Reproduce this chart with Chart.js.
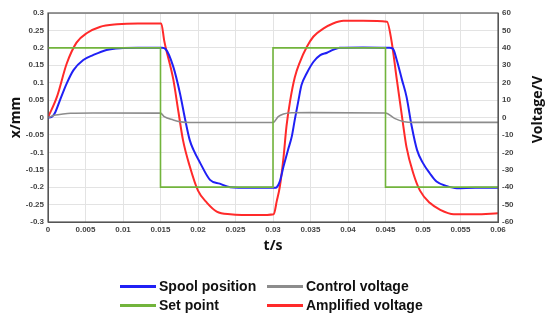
<!DOCTYPE html>
<html lang="en">
<head>
  <meta charset="UTF-8" />
  <title>Spool position response</title>
  <style>
    * { box-sizing: border-box; margin: 0; padding: 0; }
    body { width: 550px; height: 322px; background: #fff; position: relative; overflow: hidden; }
    #chart { position: absolute; left: 0; top: 0; }
    .legend { position: absolute; font-family: 'Liberation Sans', Arial, sans-serif; font-weight: bold; font-size: 14px; color: #111; }
    .item { position: absolute; white-space: nowrap; line-height: 16px; }
    .item span.sw { display: inline-block; width: 36px; height: 3px; vertical-align: middle; margin-right: 3px; position: relative; top: -1px; }
  </style>
  <script src="https://cdn.jsdelivr.net/npm/chart.js"></script>
</head>
<body>
  <canvas id="chart" width="550" height="322"></canvas>

  <div class="legend">
    <div class="item" style="left:120px; top:278px;"><span class="sw" style="background:#2020f5"></span>Spool position</div>
    <div class="item" style="left:267px; top:278px;"><span class="sw" style="background:#8c8c8c"></span>Control voltage</div>
    <div class="item" style="left:120px; top:297px;"><span class="sw" style="background:#72b43c"></span>Set point</div>
    <div class="item" style="left:267px; top:297px;"><span class="sw" style="background:#ff2a2a"></span>Amplified voltage</div>
  </div>

  <script>
    // axis ticks
    const xTicks = [0, 0.005, 0.01, 0.015, 0.02, 0.025, 0.03, 0.035, 0.04, 0.045, 0.05, 0.055, 0.06];
    const xTickLabels = ['0', '0.005', '0.01', '0.015', '0.02', '0.025', '0.03', '0.035', '0.04', '0.045', '0.05', '0.055', '0.06'];
    const yTicks = [-0.3, -0.25, -0.2, -0.15, -0.1, -0.05, 0, 0.05, 0.1, 0.15, 0.2, 0.25, 0.3];
    const yTickLabels = ['-0.3', '-0.25', '-0.2', '-0.15', '-0.1', '-0.05', '0', '0.05', '0.1', '0.15', '0.2', '0.25', '0.3'];
    const vTicks = [-60, -50, -40, -30, -20, -10, 0, 10, 20, 30, 40, 50, 60];
    const vTickLabels = ['-60', '-50', '-40', '-30', '-20', '-10', '0', '10', '20', '30', '40', '50', '60'];

    // spool position (mm)
    const spoolT = [0, 0.0005, 0.0009, 0.0016, 0.0025, 0.0034, 0.0047, 0.006, 0.0078, 0.0096, 0.012, 0.0152, 0.0157, 0.0167, 0.0176, 0.0183, 0.0189, 0.0194, 0.0203, 0.0216, 0.0229, 0.0243, 0.027, 0.0302, 0.0305, 0.0309, 0.0314, 0.032, 0.0325, 0.0329, 0.0334, 0.0338, 0.0345, 0.0354, 0.0363, 0.0372, 0.038, 0.0389, 0.042, 0.0455, 0.046, 0.0465, 0.0472, 0.0478, 0.0485, 0.0492, 0.05, 0.0509, 0.0518, 0.0532, 0.0545, 0.057, 0.06];
    const spoolX = [0, 0.002, 0.012, 0.05, 0.098, 0.136, 0.165, 0.179, 0.194, 0.199, 0.2, 0.2, 0.196, 0.146, 0.069, -0.007, -0.065, -0.093, -0.131, -0.179, -0.19, -0.2, -0.202, -0.202, -0.2, -0.184, -0.141, -0.093, -0.055, -0.007, 0.05, 0.093, 0.127, 0.16, 0.179, 0.186, 0.194, 0.2, 0.201, 0.2, 0.197, 0.165, 0.108, 0.06, -0.026, -0.093, -0.131, -0.16, -0.184, -0.197, -0.203, -0.202, -0.202];

    // set point (mm)
    const setT = [0, 0.015, 0.015, 0.03, 0.03, 0.045, 0.045, 0.06];
    const setX = [0.2, 0.2, -0.2, -0.2, 0.2, 0.2, -0.2, -0.2];

    // control voltage (V)
    const ctrlT = [0, 0.001, 0.002, 0.003, 0.006, 0.015, 0.0155, 0.0167, 0.0177, 0.019, 0.022, 0.03, 0.0307, 0.0314, 0.0325, 0.035, 0.045, 0.0462, 0.0475, 0.0487, 0.052, 0.06];
    const ctrlV = [0, 1.4, 2.0, 2.4, 2.6, 2.5, 0.5, -1.4, -2.5, -2.9, -2.9, -2.9, 0.5, 2.0, 2.7, 2.8, 2.6, -0.5, -2.4, -2.8, -2.8, -2.8];

    // amplified voltage (V)
    const ampT = [0, 0.0012, 0.0025, 0.0038, 0.0052, 0.0069, 0.0092, 0.012, 0.0151, 0.0155, 0.0167, 0.0174, 0.018, 0.0189, 0.02, 0.0212, 0.0225, 0.0243, 0.028, 0.0301, 0.0305, 0.0309, 0.0314, 0.0318, 0.0323, 0.0329, 0.0336, 0.0345, 0.0354, 0.0367, 0.038, 0.0394, 0.042, 0.0452, 0.0458, 0.0465, 0.0472, 0.0478, 0.0487, 0.0496, 0.0509, 0.0523, 0.0541, 0.057, 0.06];
    const ampV = [0, 12, 31, 43, 48.5, 52, 53.5, 54, 54, 44, 22, 3, -13, -28, -42, -49, -54, -55.5, -56, -55.5, -48, -40, -23, -5, 10, 23, 32, 40.5, 46.5, 51, 54, 55.5, 55.5, 55, 44, 22, 0.5, -17, -32, -42, -49, -53, -55.5, -55.5, -55];

    const pts = (xs, ys) => xs.map((x, i) => ({ x: x, y: ys[i] }));
    const tickFont = { family: "'Liberation Sans', Arial, sans-serif", size: 8, weight: 'bold' };
    const titleFont = { family: "'Open Sans', Arial, sans-serif", size: 14, weight: 'bold' };

    // box around the plot area (MATLAB style) + right axis title reading upwards
    const frame = {
      id: 'frame',
      afterDatasetsDraw(chart) {
        const a = chart.chartArea, c = chart.ctx;
        c.save();
        c.strokeStyle = '#555';
        c.lineWidth = 1.2;
        c.strokeRect(a.left, a.top, a.right - a.left, a.bottom - a.top);
        c.restore();
      },
      afterDraw(chart) {
        const a = chart.chartArea, c = chart.ctx;
        c.save();
        c.translate(538, (a.top + a.bottom) / 2 - 8);
        c.rotate(-Math.PI / 2);
        c.font = 'bold 14px "Open Sans", Arial, sans-serif';
        c.fillStyle = '#111';
        c.textAlign = 'center';
        c.textBaseline = 'middle';
        c.fillText('Voltage/V', 0, 0);
        c.restore();
      }
    };

    new Chart(document.getElementById('chart').getContext('2d'), {
      type: 'line',
      data: {
        datasets: [
          { label: 'Set point', data: pts(setT, setX), yAxisID: 'y', borderColor: '#72b43c', borderWidth: 1.6, tension: 0 },
          { label: 'Control voltage', data: pts(ctrlT, ctrlV), yAxisID: 'y2', borderColor: '#8c8c8c', borderWidth: 1.6, cubicInterpolationMode: 'monotone' },
          { label: 'Spool position', data: pts(spoolT, spoolX), yAxisID: 'y', borderColor: '#2020f5', borderWidth: 2, cubicInterpolationMode: 'monotone' },
          { label: 'Amplified voltage', data: pts(ampT, ampV), yAxisID: 'y2', borderColor: '#ff2a2a', borderWidth: 2, cubicInterpolationMode: 'monotone' }
        ]
      },
      options: {
        responsive: false,
        animation: false,
        devicePixelRatio: 1,
        layout: { padding: { top: 13, left: 0, right: 0, bottom: 0 } },
        elements: { point: { radius: 0 } },
        plugins: { legend: { display: false }, tooltip: { enabled: false } },
        scales: {
          x: {
            type: 'linear', min: 0, max: 0.06,
            afterBuildTicks: s => { s.ticks = xTicks.map(v => ({ value: v })); },
            afterFit: s => { s.height = 100; },
            ticks: { font: tickFont, color: '#444', padding: 3, maxRotation: 0, autoSkip: false, callback: (v, i) => xTickLabels[i] },
            grid: { color: '#e3e3e3', drawTicks: false },
            border: { color: '#555' },
            title: { display: true, text: 't/s', font: titleFont, color: '#111', padding: { top: 0, bottom: 68 } }
          },
          y: {
            type: 'linear', position: 'left', min: -0.3, max: 0.3,
            afterBuildTicks: s => { s.ticks = yTicks.map(v => ({ value: v })); },
            afterFit: s => { s.width = 48; },
            ticks: { font: tickFont, color: '#444', padding: 4, autoSkip: false, callback: (v, i) => yTickLabels[i] },
            grid: { color: '#e3e3e3', drawTicks: false },
            border: { color: '#555' },
            title: { display: true, text: 'x/mm', font: titleFont, color: '#111', padding: { top: 8, bottom: 0 } }
          },
          y2: {
            type: 'linear', position: 'right', min: -60, max: 60,
            afterBuildTicks: s => { s.ticks = vTicks.map(v => ({ value: v })); },
            afterFit: s => { s.width = 52; },
            ticks: { font: tickFont, color: '#444', padding: 4, autoSkip: false, callback: (v, i) => vTickLabels[i] },
            grid: { drawOnChartArea: false, drawTicks: false },
            border: { color: '#555' }
          }
        }
      },
      plugins: [frame]
    });
  </script>
</body>
</html>
